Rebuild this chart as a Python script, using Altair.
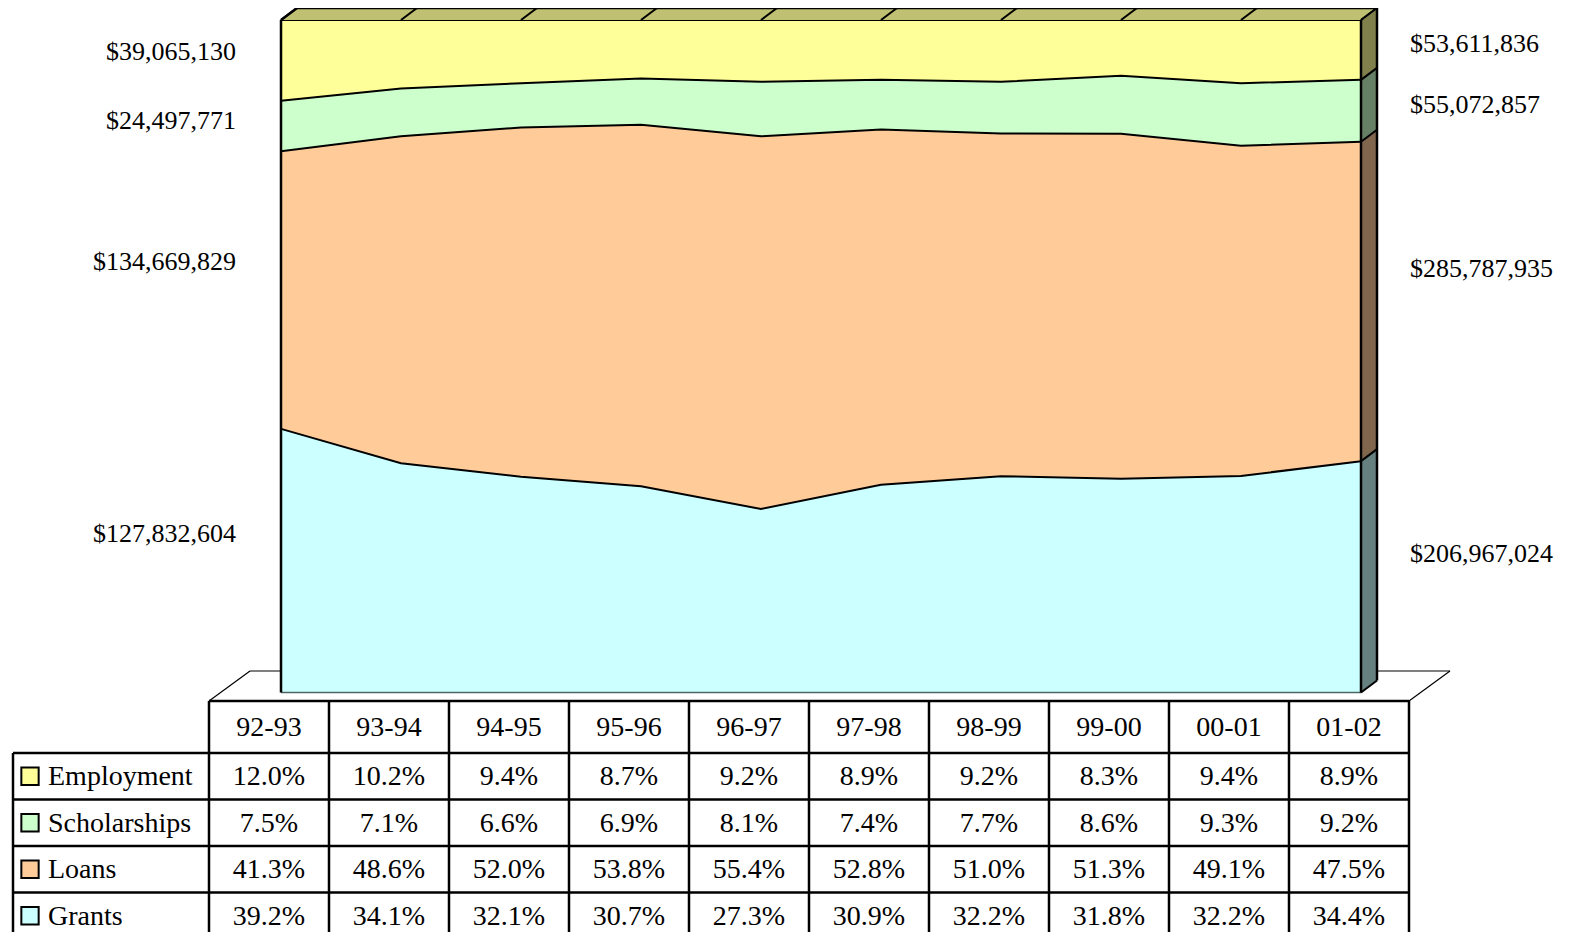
import altair as alt
import pandas as pd

# ---------------- data ----------------
years = ["92-93", "93-94", "94-95", "95-96", "96-97", "97-98", "98-99", "99-00", "00-01", "01-02"]
series_table_order = ["Employment", "Scholarships", "Loans", "Grants"]   # table rows, top-down
series_stack_order = ["Grants", "Loans", "Scholarships", "Employment"]   # stack, bottom-up
employment = [12.0, 10.2, 9.4, 8.7, 9.2, 8.9, 9.2, 8.3, 9.4, 8.9]
scholarships = [7.5, 7.1, 6.6, 6.9, 8.1, 7.4, 7.7, 8.6, 9.3, 9.2]
loans = [41.3, 48.6, 52.0, 53.8, 55.4, 52.8, 51.0, 51.3, 49.1, 47.5]
grants = [39.2, 34.1, 32.1, 30.7, 27.3, 30.9, 32.2, 31.8, 32.2, 34.4]
first_amounts = ["$39,065,130", "$24,497,771", "$134,669,829", "$127,832,604"]   # table order
last_amounts = ["$53,611,836", "$55,072,857", "$285,787,935", "$206,967,024"]    # table order

values = {"Employment": employment, "Scholarships": scholarships, "Loans": loans, "Grants": grants}

# ---------------- style ----------------
FRONT = {"Employment": "#FFFF99", "Scholarships": "#CCFFCC", "Loans": "#FFCC99", "Grants": "#CCFFFF"}
SIDE = {"Employment": "#80804D", "Scholarships": "#668066", "Loans": "#80664D", "Grants": "#668080"}
TOP_FACE = "#C0C073"
FONT = "Liberation Serif"
TABLE_FS = 28
LABEL_FS = 26
LABEL_ANCHOR = 0.6        # labels sit 60 % up their band

W, H, PAD_TOP = 1559, 922, 2
COL_PX = 120.0            # px per category
COL0_PX = 261.0           # plot-x of first category centre
AREA_BOTTOM_PX = 682.5    # plot-y of 0 %
AREA_H_PX = 672.5         # px for 100 %
ROW0_PX = 743.0           # plot-y of header bottom
ROW_PX = 46.5

AREA_SHIFT = 12 / COL_PX  # front face of the 3-D area vs. table columns
DEPTH_U = 16 / COL_PX
DEPTH_V = 12 / AREA_H_PX
HEADER_ROWS = 52 / ROW_PX
T_TOP = -HEADER_ROWS
FLOOR_DU = 41 / COL_PX
FLOOR_DT = -30 / ROW_PX
LABEL_COL_LEFT = -256 / COL_PX
KEY_U = -239 / COL_PX
KEY_TEXT_U = -221 / COL_PX
LEFT_LABEL_U = -33 / COL_PX
RIGHT_LABEL_U = 1141 / COL_PX

XS = alt.Scale(domain=[-COL0_PX / COL_PX, (W - COL0_PX) / COL_PX], nice=False, zero=False)
YA = alt.Scale(domain=[-(H - AREA_BOTTOM_PX) / AREA_H_PX, AREA_BOTTOM_PX / AREA_H_PX], nice=False, zero=False)
YT = alt.Scale(domain=[-ROW0_PX / ROW_PX, (H - ROW0_PX) / ROW_PX], nice=False, zero=False, reverse=True)


def X(f):
    return alt.X(f, type="quantitative", scale=XS, axis=None)


def YAr(f):
    return alt.Y(f, type="quantitative", scale=YA, axis=None)


def YTr(f):
    return alt.Y(f, type="quantitative", scale=YT, axis=None)


# ---------------- derived tables ----------------
rows = []
n = len(years)
for i in range(n):
    tot = sum(values[s][i] for s in series_stack_order)
    cum = 0.0
    for s in series_stack_order:
        fr = values[s][i] / tot
        rows.append({"series": s, "i": i, "x": i + AREA_SHIFT, "lo": cum, "hi": cum + fr,
                     "fc": FRONT[s], "sc": SIDE[s]})
        cum += fr
area_df = pd.DataFrame(rows)
x_first = AREA_SHIFT
x_last = (n - 1) + AREA_SHIFT

layers = []

# floor (behind the area)
floor_df = pd.DataFrame([
    {"x": -0.5 + FLOOR_DU, "x2": (n - 0.5) + FLOOR_DU, "y": T_TOP + FLOOR_DT, "y2": T_TOP + FLOOR_DT},
    {"x": -0.5, "x2": -0.5 + FLOOR_DU, "y": T_TOP, "y2": T_TOP + FLOOR_DT},
    {"x": n - 0.5, "x2": n - 0.5 + FLOOR_DU, "y": T_TOP, "y2": T_TOP + FLOOR_DT},
])
layers.append(alt.Chart(floor_df).mark_rule(color="black", strokeWidth=1.2).encode(
    x=X("x"), x2="x2", y=YTr("y"), y2="y2"))

# front area bands (one layer per series)
for s in series_stack_order:
    layers.append(alt.Chart(area_df[area_df.series == s]).mark_area(
        opacity=1, color=FRONT[s], strokeWidth=0).encode(
        x=X("x"), y=YAr("lo"), y2="hi"))

# bottom edge
layers.append(alt.Chart(area_df[area_df.series == "Grants"]).mark_line(color="#4D6666", strokeWidth=1.5).encode(
    x=X("x"), y=YAr("lo")))

# band boundary lines
for s in series_stack_order:
    layers.append(alt.Chart(area_df[area_df.series == s]).mark_line(color="black", strokeWidth=2).encode(
        x=X("x"), y=YAr("hi")))

# top face
top_df = pd.DataFrame([
    {"y": 1.0, "xa": x_first, "xb": x_last},
    {"y": 1.0 + DEPTH_V, "xa": x_first + DEPTH_U, "xb": x_last + DEPTH_U},
])
layers.append(alt.Chart(top_df).mark_area(orient="horizontal", color=TOP_FACE, opacity=1).encode(
    y=YAr("y"), x=X("xa"), x2="xb"))
div_df = pd.DataFrame([{"x": i + AREA_SHIFT, "x2": i + AREA_SHIFT + DEPTH_U, "y": 1.0, "y2": 1.0 + DEPTH_V}
                       for i in range(n)])
layers.append(alt.Chart(div_df).mark_rule(color="black", strokeWidth=2).encode(
    x=X("x"), x2="x2", y=YAr("y"), y2="y2"))
back_df = pd.DataFrame([{"x": x_first + DEPTH_U, "x2": x_last + DEPTH_U, "y": 1.0 + DEPTH_V}])
layers.append(alt.Chart(back_df).mark_rule(color="black", strokeWidth=2.5).encode(
    x=X("x"), x2="x2", y=YAr("y")))

# right face
last = area_df[area_df.i == n - 1]
for _, r in last.iterrows():
    sd = pd.DataFrame([
        {"x": x_last, "lo": r.lo, "hi": r.hi},
        {"x": x_last + DEPTH_U, "lo": r.lo + DEPTH_V, "hi": r.hi + DEPTH_V},
    ])
    layers.append(alt.Chart(sd).mark_area(opacity=1, color=r.sc, strokeWidth=0).encode(
        x=X("x"), y=YAr("lo"), y2="hi"))
sdiv = [{"x": x_last, "x2": x_last + DEPTH_U, "y": r.hi, "y2": r.hi + DEPTH_V} for _, r in last.iterrows()]
sdiv.append({"x": x_last, "x2": x_last + DEPTH_U, "y": 0.0, "y2": DEPTH_V})
layers.append(alt.Chart(pd.DataFrame(sdiv)).mark_rule(color="black", strokeWidth=2).encode(
    x=X("x"), x2="x2", y=YAr("y"), y2="y2"))

# vertical edges of the box
edges_df = pd.DataFrame([
    {"x": x_first, "y": 0.0, "y2": 1.0},
    {"x": x_last, "y": 0.0, "y2": 1.0},
    {"x": x_last + DEPTH_U, "y": DEPTH_V, "y2": 1.0 + DEPTH_V},
])
layers.append(alt.Chart(edges_df).mark_rule(color="black", strokeWidth=2.5).encode(
    x=X("x"), y=YAr("y"), y2="y2"))
ldiag = pd.DataFrame([{"x": x_first, "x2": x_first + DEPTH_U, "y": 1.0, "y2": 1.0 + DEPTH_V}])
layers.append(alt.Chart(ldiag).mark_rule(color="black", strokeWidth=2.5).encode(
    x=X("x"), x2="x2", y=YAr("y"), y2="y2"))

# dollar labels
lab_rows = []
for k, s in enumerate(series_table_order):
    r0 = area_df[(area_df.series == s) & (area_df.i == 0)].iloc[0]
    r9 = area_df[(area_df.series == s) & (area_df.i == n - 1)].iloc[0]
    lab_rows.append({"x": LEFT_LABEL_U, "y": r0.lo + LABEL_ANCHOR * (r0.hi - r0.lo), "t": first_amounts[k],
                     "side": "L"})
    lab_rows.append({"x": RIGHT_LABEL_U, "y": r9.lo + LABEL_ANCHOR * (r9.hi - r9.lo), "t": last_amounts[k],
                     "side": "R"})
lab_df = pd.DataFrame(lab_rows)
layers.append(alt.Chart(lab_df[lab_df.side == "L"]).mark_text(
    font=FONT, fontSize=LABEL_FS, align="right", baseline="middle", color="black").encode(
    x=X("x"), y=YAr("y"), text="t:N"))
layers.append(alt.Chart(lab_df[lab_df.side == "R"]).mark_text(
    font=FONT, fontSize=LABEL_FS, align="left", baseline="middle", color="black").encode(
    x=X("x"), y=YAr("y"), text="t:N"))

# ---------------- data table ----------------
grid = []
for k in range(n + 1):
    grid.append({"x": -0.5 + k, "x2": -0.5 + k, "y": T_TOP, "y2": 5.0})
grid.append({"x": LABEL_COL_LEFT, "x2": LABEL_COL_LEFT, "y": 0.0, "y2": 5.0})
grid.append({"x": -0.5, "x2": n - 0.5, "y": T_TOP, "y2": T_TOP})
for r in range(len(series_table_order) + 1):
    grid.append({"x": LABEL_COL_LEFT, "x2": n - 0.5, "y": float(r), "y2": float(r)})
layers.append(alt.Chart(pd.DataFrame(grid)).mark_rule(color="black", strokeWidth=2.5).encode(
    x=X("x"), x2="x2", y=YTr("y"), y2="y2"))

head_df = pd.DataFrame({"x": list(range(n)), "y": [T_TOP / 2] * n, "t": years})
layers.append(alt.Chart(head_df).mark_text(font=FONT, fontSize=TABLE_FS, baseline="middle", dy=1,
                                           color="black").encode(x=X("x"), y=YTr("y"), text="t:N"))

cell_rows = []
for r, s in enumerate(series_table_order):
    for i in range(n):
        cell_rows.append({"x": i, "y": r + 0.5, "t": f"{values[s][i]:.1f}%"})
layers.append(alt.Chart(pd.DataFrame(cell_rows)).mark_text(font=FONT, fontSize=TABLE_FS, baseline="middle",
                                                           dy=1, color="black").encode(
    x=X("x"), y=YTr("y"), text="t:N"))

key_df = pd.DataFrame({"x": [KEY_U] * 4, "xt": [KEY_TEXT_U] * 4,
                       "y": [r + 0.5 for r in range(4)], "t": series_table_order,
                       "fc": [FRONT[s] for s in series_table_order]})
layers.append(alt.Chart(key_df).mark_square(size=300, filled=True, opacity=1, stroke="black",
                                            strokeWidth=2).encode(
    x=X("x"), y=YTr("y"), color=alt.Color("fc:N", scale=None)))
layers.append(alt.Chart(key_df).mark_text(font=FONT, fontSize=TABLE_FS, align="left", baseline="middle",
                                          dy=1, color="black").encode(
    x=X("xt"), y=YTr("y"), text="t:N"))

chart = alt.layer(*layers).resolve_scale(y="independent").properties(
    width=W, height=H,
    autosize=alt.AutoSizeParams(type="none"),
    padding={"left": 0, "top": PAD_TOP, "right": 0, "bottom": 0},
    background="white",
).configure_view(stroke=None)

chart.save("out.html", embed_options={"renderer": "svg", "actions": False})
